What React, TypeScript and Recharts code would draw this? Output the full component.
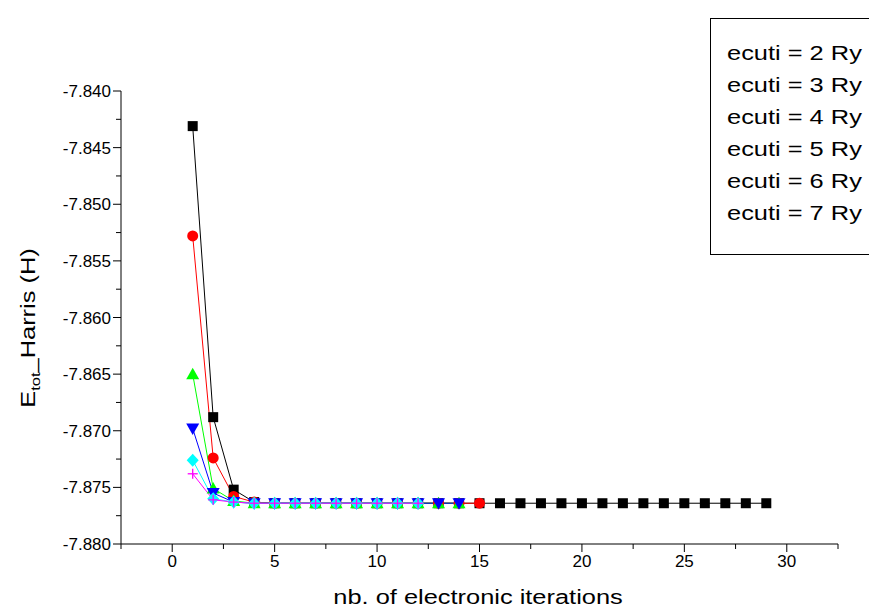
import React from 'react';
import { LineChart, Line, XAxis, YAxis, Legend } from 'recharts';

const iterations = [1, 2, 3, 4, 5, 6, 7, 8, 9, 10, 11, 12, 13, 14, 15, 16, 17, 18, 19, 20, 21, 22, 23, 24, 25, 26, 27, 28, 29];

const ecuti2 = [-7.8431, -7.8688, -7.8752, -7.8763, -7.8764, -7.8764, -7.8764, -7.8764, -7.8764, -7.8764, -7.8764, -7.8764, -7.8764, -7.8764, -7.8764, -7.8764, -7.8764, -7.8764, -7.8764, -7.8764, -7.8764, -7.8764, -7.8764, -7.8764, -7.8764, -7.8764, -7.8764, -7.8764, -7.8764];
const ecuti3 = [-7.8528, -7.8724, -7.8758, -7.8763, -7.8764, -7.8764, -7.8764, -7.8764, -7.8764, -7.8764, -7.8764, -7.8764, -7.8764, -7.8764, -7.8764];
const ecuti4 = [-7.8650, -7.8751, -7.8762, -7.8764, -7.8764, -7.8764, -7.8764, -7.8764, -7.8764, -7.8764, -7.8764, -7.8764, -7.8764, -7.8764];
const ecuti5 = [-7.8698, -7.8755, -7.8763, -7.8764, -7.8764, -7.8764, -7.8764, -7.8764, -7.8764, -7.8764, -7.8764, -7.8764, -7.8764, -7.8764];
const ecuti6 = [-7.8726, -7.8760, -7.8763, -7.8764, -7.8764, -7.8764, -7.8764, -7.8764, -7.8764, -7.8764, -7.8764, -7.8764];
const ecuti7 = [-7.8738, -7.8761, -7.8763, -7.8764, -7.8764, -7.8764, -7.8764, -7.8764, -7.8764, -7.8764, -7.8764, -7.8764];

const seriesNames = ['ecuti = 2 Ry', 'ecuti = 3 Ry', 'ecuti = 4 Ry', 'ecuti = 5 Ry', 'ecuti = 6 Ry', 'ecuti = 7 Ry'];

const xTicks = [-2.5, 0, 2.5, 5, 7.5, 10, 12.5, 15, 17.5, 20, 22.5, 25, 27.5, 30, 32.5];
const yTicks = [-7.88, -7.8775, -7.875, -7.8725, -7.87, -7.8675, -7.865, -7.8625, -7.86, -7.8575, -7.855, -7.8525, -7.85, -7.8475, -7.845, -7.8425, -7.84];

const FONT = '"Liberation Sans", Arial, sans-serif';
const STRETCH = 1.27;

const toPoints = (vals: number[]) => vals.map((v, i) => ({ x: iterations[i], y: v }));

const SquareDot = (p: any) => (
  <rect key={p.index} x={p.cx - 5} y={p.cy - 5} width={10} height={10} fill="#000000" />
);
const CircleDot = (p: any) => <circle key={p.index} cx={p.cx} cy={p.cy} r={5.5} fill="#ff0000" />;
const TriUpDot = (p: any) => (
  <polygon key={p.index} points={`${p.cx},${p.cy - 6.5} ${p.cx + 6.5},${p.cy + 5} ${p.cx - 6.5},${p.cy + 5}`} fill="#00ff00" />
);
const TriDownDot = (p: any) => (
  <polygon key={p.index} points={`${p.cx - 6.5},${p.cy - 5} ${p.cx + 6.5},${p.cy - 5} ${p.cx},${p.cy + 6.5}`} fill="#0000ff" />
);
const DiamondDot = (p: any) => (
  <polygon key={p.index} points={`${p.cx},${p.cy - 6.5} ${p.cx + 6},${p.cy} ${p.cx},${p.cy + 6.5} ${p.cx - 6},${p.cy}`} fill="#00ffff" />
);
const PlusDot = (p: any) => (
  <g key={p.index} stroke="#ff00ff" strokeWidth={1.3}>
    <line x1={p.cx - 5} y1={p.cy} x2={p.cx + 5} y2={p.cy} />
    <line x1={p.cx} y1={p.cy - 5} x2={p.cx} y2={p.cy + 5} />
  </g>
);

const XTick = (props: any) => {
  const { x, y, payload } = props;
  const v = payload.value;
  const major = Math.round(v / 2.5) % 2 === 0;
  return (
    <g>
      <line x1={x} y1={y} x2={x} y2={y + (major ? 8 : 5)} stroke="#000" strokeWidth={1} />
      {major && (
        <text x={x} y={y + 23} textAnchor="middle" fontSize={17} fontFamily={FONT} fill="#000">
          {v}
        </text>
      )}
    </g>
  );
};

const YTick = (props: any) => {
  const { x, y, payload } = props;
  const v = payload.value;
  const k = Math.round((v + 7.88) / 0.0025);
  const major = k % 2 === 0;
  return (
    <g>
      <line x1={x} y1={y} x2={x - (major ? 8 : 5)} y2={y} stroke="#000" strokeWidth={1} />
      {major && (
        <text x={x - 10} y={y + 6} textAnchor="end" fontSize={17} fontFamily={FONT} fill="#000">
          {v.toFixed(3)}
        </text>
      )}
    </g>
  );
};

const LegendBox = (props: any) => {
  const items = props.payload && props.payload.length ? props.payload.map((p: any) => p.value) : seriesNames;
  return (
    <div
      style={{
        border: '1px solid #000',
        width: 170,
        height: 237,
        boxSizing: 'border-box',
        padding: '18px 0 0 16px',
        fontFamily: FONT,
        fontSize: 20,
        lineHeight: '32px',
        color: '#000',
        background: '#fff',
      }}
    >
      {items.map((name: string) => (
        <div key={name} style={{ whiteSpace: 'nowrap', transform: `scaleX(${STRETCH})`, transformOrigin: 'left center' }}>
          {name}
        </div>
      ))}
    </div>
  );
};

export default function App() {
  return (
    <div style={{ position: 'absolute', left: 0, top: 0, width: 869, height: 609, overflow: 'hidden', background: '#fff' }}>
      <LineChart width={869} height={609} margin={{ top: 91, right: 31, left: 0, bottom: 0 }}>
        <XAxis
          type="number"
          dataKey="x"
          domain={[-2.5, 32.5]}
          ticks={xTicks}
          interval={0}
          height={65}
          tickSize={0}
          tickMargin={0}
          tickLine={false}
          axisLine={{ stroke: '#000', strokeWidth: 1 }}
          tick={<XTick />}
          allowDataOverflow
          label={{
            content: () => (
              <text transform={`translate(478, 604) scale(${STRETCH}, 1)`} x={0} y={0} textAnchor="middle" fontSize={20} fontFamily={FONT} fill="#000">
                nb. of electronic iterations
              </text>
            ),
          }}
        />
        <YAxis
          type="number"
          dataKey="y"
          domain={[-7.88, -7.84]}
          ticks={yTicks}
          interval={0}
          width={121}
          tickSize={0}
          tickMargin={0}
          tickLine={false}
          axisLine={{ stroke: '#000', strokeWidth: 1 }}
          tick={<YTick />}
          allowDataOverflow
          label={{
            content: () => (
              <text transform={`translate(35, 328) rotate(-90) scale(${STRETCH}, 1)`} x={0} y={0} textAnchor="middle" fontSize={20} fontFamily={FONT} fill="#000">
                E<tspan fontSize={13} dy={5}>tot</tspan>
                <tspan dy={-5}>_Harris (H)</tspan>
              </text>
            ),
          }}
        />
        <Legend
          layout="horizontal"
          verticalAlign="middle"
          align="center"
          content={<LegendBox />}
          wrapperStyle={{ position: 'absolute', left: 710, top: 18, width: 170, height: 237 }}
        />
        <Line data={toPoints(ecuti2)} dataKey="y" name={seriesNames[0]} type="linear" stroke="#000000" strokeWidth={1} dot={SquareDot} isAnimationActive={false} />
        <Line data={toPoints(ecuti3)} dataKey="y" name={seriesNames[1]} type="linear" stroke="#ff0000" strokeWidth={1} dot={CircleDot} isAnimationActive={false} />
        <Line data={toPoints(ecuti4)} dataKey="y" name={seriesNames[2]} type="linear" stroke="#00ff00" strokeWidth={1} dot={TriUpDot} isAnimationActive={false} />
        <Line data={toPoints(ecuti5)} dataKey="y" name={seriesNames[3]} type="linear" stroke="#0000ff" strokeWidth={1} dot={TriDownDot} isAnimationActive={false} />
        <Line data={toPoints(ecuti6)} dataKey="y" name={seriesNames[4]} type="linear" stroke="#00ffff" strokeWidth={1} dot={DiamondDot} isAnimationActive={false} />
        <Line data={toPoints(ecuti7)} dataKey="y" name={seriesNames[5]} type="linear" stroke="#ff00ff" strokeWidth={1} dot={PlusDot} isAnimationActive={false} />
      </LineChart>
    </div>
  );
}
